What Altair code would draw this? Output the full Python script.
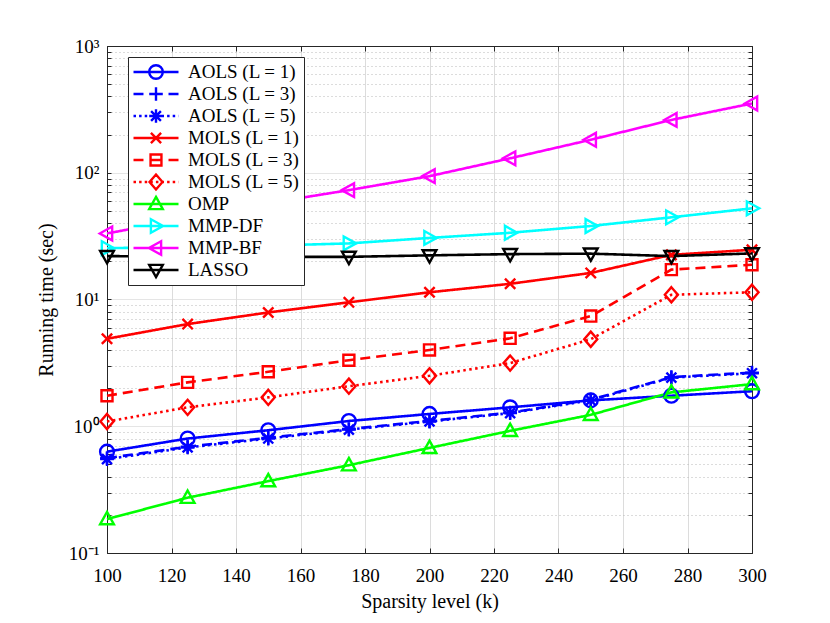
import altair as alt
import pandas as pd

# ---------------- data ----------------
k_values = [100, 125, 150, 175, 200, 225, 250, 275, 300]

series_names = [
    "AOLS (L = 1)", "AOLS (L = 3)", "AOLS (L = 5)",
    "MOLS (L = 1)", "MOLS (L = 3)", "MOLS (L = 5)",
    "OMP", "MMP-DF", "MMP-BF", "LASSO",
]

aols_l1 = [0.63, 0.80, 0.93, 1.10, 1.25, 1.41, 1.60, 1.74, 1.89]
aols_l3 = [0.56, 0.69, 0.81, 0.95, 1.10, 1.28, 1.62, 2.44, 2.65]
aols_l5 = [0.55, 0.68, 0.80, 0.94, 1.09, 1.27, 1.60, 2.42, 2.62]
mols_l1 = [4.9, 6.4, 7.9, 9.5, 11.4, 13.3, 16.2, 22.5, 24.7]
mols_l3 = [1.74, 2.22, 2.69, 3.32, 4.0, 4.94, 7.4, 17.2, 18.8]
mols_l5 = [1.09, 1.41, 1.69, 2.07, 2.50, 3.15, 4.86, 10.9, 11.4]
omp = [0.185, 0.273, 0.369, 0.493, 0.675, 0.92, 1.23, 1.85, 2.15]
mmp_df = [25.4, 26.0, 26.6, 27.7, 30.6, 33.6, 38.0, 44.5, 52.4]
mmp_bf = [33.2, 43.7, 57.6, 72.9, 94.0, 130.0, 182.0, 261.0, 352.0]
lasso = [22.0, 21.8, 21.7, 21.7, 22.3, 22.8, 23.0, 22.0, 23.1]

all_series = [aols_l1, aols_l3, aols_l5, mols_l1, mols_l3, mols_l5,
              omp, mmp_df, mmp_bf, lasso]

x_ticks = [100, 120, 140, 160, 180, 200, 220, 240, 260, 280, 300]
y_major = [0.1, 1, 10, 100, 1000]
y_major_labels = ["10\u207b\u00b9", "10\u2070", "10\u00b9", "10\u00b2", "10\u00b3"]
y_minor = [round(m * 10 ** e, 6) for e in range(-1, 3) for m in range(2, 10)]

# ---------------- styles ----------------
colors = ["#0000ff", "#0000ff", "#0000ff", "#ff0000", "#ff0000", "#ff0000",
          "#00ff00", "#00ffff", "#ff00ff", "#000000"]
SOLID, DASH, DOT = [1, 0], [10, 6], [2.5, 3.5]
dashes = [SOLID, DASH, DOT, SOLID, DASH, DOT, SOLID, SOLID, SOLID, SOLID]
line_kind = ["solid", "dash", "dot", "solid", "dash", "dot",
             "solid", "solid", "solid", "solid"]


def f(v):
    return f"{v:.3f}"


def circle(r):
    return f"M{f(-r)},0A{f(r)},{f(r)} 0 1,0 {f(r)},0A{f(r)},{f(r)} 0 1,0 {f(-r)},0Z"


def plus(r):
    return f"M{f(-r)},0L{f(r)},0M0,{f(-r)}L0,{f(r)}"


def asterisk(r):
    d = 0.72 * r
    return plus(r) + f"M{f(-d)},{f(-d)}L{f(d)},{f(d)}M{f(-d)},{f(d)}L{f(d)},{f(-d)}"


def xmark(r):
    d = 0.75 * r
    return f"M{f(-d)},{f(-d)}L{f(d)},{f(d)}M{f(-d)},{f(d)}L{f(d)},{f(-d)}"


def square(r):
    d = 0.8 * r
    return f"M{f(-d)},{f(-d)}L{f(d)},{f(-d)}L{f(d)},{f(d)}L{f(-d)},{f(d)}Z"


def diamond(r):
    a, b = 0.95 * r, 1.1 * r
    return f"M0,{f(-b)}L{f(a)},0L0,{f(b)}L{f(-a)},0Z"


def tri_up(r):
    return f"M0,{f(-1.05*r)}L{f(r)},{f(0.75*r)}L{f(-r)},{f(0.75*r)}Z"


def tri_down(r):
    return f"M0,{f(1.05*r)}L{f(r)},{f(-0.75*r)}L{f(-r)},{f(-0.75*r)}Z"


def tri_right(r):
    return f"M{f(1.05*r)},0L{f(-0.75*r)},{f(-r)}L{f(-0.75*r)},{f(r)}Z"


def tri_left(r):
    return f"M{f(-1.05*r)},0L{f(0.75*r)},{f(-r)}L{f(0.75*r)},{f(r)}Z"


marker_funcs = [circle, plus, asterisk, xmark, square, diamond,
                tri_up, tri_right, tri_left, tri_down]

# plot markers: unit 1 -> sqrt(size)/2 px
MARKER_SIZE = 190
plot_shapes = [fn(1.0) for fn in marker_funcs]

# legend symbols: line sample + marker, 45 px wide
LEG_SIZE = 2025
U = (LEG_SIZE ** 0.5) / 2.0  # px per unit
MR = 6.8 / U


def line_part(kind):
    half = U
    if kind == "solid":
        segs = [(-half, half)]
    elif kind == "dash":
        segs = [(-half, -half + 10), (-5, 5), (half - 10, half)]
    else:
        segs = []
        p = -half
        while p < half:
            segs.append((p, min(p + 2.5, half)))
            p += 5.6
    return "".join(f"M{f(a/U)},0L{f(b/U)},0" for a, b in segs)


legend_shapes = [line_part(kind) + fn(MR) for kind, fn in zip(line_kind, marker_funcs)]

# ---------------- table ----------------
rows = []
for name, vals in zip(series_names, all_series):
    for kk, v in zip(k_values, vals):
        rows.append({"k": kk, "time": v, "series": name})
df = pd.DataFrame(rows)

FONT = "Liberation Serif"
AX = "#262626"

label_expr = " : ".join(
    f"datum.value == {v} ? '{lab}'" for v, lab in zip(y_major, y_major_labels)
) + " : ''"
major_test = "indexof([" + ",".join(str(v) for v in y_major) + "], datum.value) >= 0"

x_scale = alt.Scale(domain=[100, 300], nice=False, zero=False)
y_scale = alt.Scale(type="log", domain=[0.1, 1000], nice=False)

x_axis = alt.Axis(
    values=x_ticks, title="Sparsity level (k)", grid=True, gridColor="#dcdcdc",
    tickSize={"expr": "-5"}, tickColor=AX, domainColor=AX, labelColor="#000000",
    labelFont=FONT, labelFontSize=19, labelPadding=18, labelFlush=False,
    titleFont=FONT, titleFontSize=20, titleFontWeight="normal",
    titleColor="#000000", titlePadding=6,
)
y_axis = alt.Axis(
    values=y_major + y_minor, labelExpr=label_expr, title="Running time (sec)",
    grid=True,
    gridDash={"condition": {"test": major_test, "value": [1, 0]}, "value": [1, 3]},
    gridColor={"condition": {"test": major_test, "value": "#dcdcdc"}, "value": "#b8b8b8"},
    tickSize={"expr": "-4"}, tickColor=AX, domainColor=AX, labelColor="#000000",
    labelFont=FONT, labelFontSize=19, labelPadding=12, labelFlush=False,
    titleFont=FONT, titleFontSize=20, titleFontWeight="normal",
    titleColor="#000000", titlePadding=12,
)

x_axis_top = alt.Axis(orient="top", values=x_ticks, labels=False, title=None, grid=False,
                      tickSize={"expr": "-5"}, tickColor=AX, domainColor=AX)
y_axis_right = alt.Axis(orient="right", values=y_major + y_minor, labels=False, title=None,
                        grid=False, tickSize={"expr": "-4"}, tickColor=AX, domainColor=AX)

color_enc = alt.Color("series:N", sort=series_names,
                      scale=alt.Scale(domain=series_names, range=colors), legend=None)

lines = alt.Chart(df).mark_line(strokeWidth=2.6).encode(
    x=alt.X("k:Q", scale=x_scale, axis=x_axis),
    y=alt.Y("time:Q", scale=y_scale, axis=y_axis),
    color=color_enc,
    strokeDash=alt.StrokeDash("series:N", sort=series_names,
                              scale=alt.Scale(domain=series_names, range=dashes),
                              legend=None),
    detail="series:N",
)

points = alt.Chart(df).mark_point(filled=False, strokeWidth=2.4, size=MARKER_SIZE,
                                  opacity=1).encode(
    x=alt.X("k:Q", scale=x_scale, axis=None),
    y=alt.Y("time:Q", scale=y_scale, axis=None),
    color=color_enc,
    shape=alt.Shape("series:N", sort=series_names,
                    scale=alt.Scale(domain=series_names, range=plot_shapes), legend=None),
)

leg = alt.Legend(
    orient="none", legendX=21, legendY=11, title=None,
    symbolSize=LEG_SIZE, symbolStrokeWidth=2.4, symbolOpacity=1,
    symbolFillColor="transparent", clipHeight=22, rowPadding=0, padding=4,
    labelOffset=8, labelFont=FONT, labelFontSize=19, labelColor="#000000",
    labelLimit=0, strokeColor=AX, fillColor="#ffffff", cornerRadius=0,
)

legend_layer = alt.Chart(df).mark_point(filled=False, opacity=0, strokeWidth=2).encode(
    x=alt.X("k:Q", scale=x_scale, axis=x_axis_top),
    y=alt.Y("time:Q", scale=y_scale, axis=y_axis_right),
    stroke=alt.Stroke("series:N", sort=series_names,
                      scale=alt.Scale(domain=series_names, range=colors), legend=leg),
    shape=alt.Shape("series:N", sort=series_names,
                    scale=alt.Scale(domain=series_names, range=legend_shapes), legend=leg),
)

chart = alt.layer(lines, points, legend_layer).resolve_scale(
    shape="independent", stroke="independent"
).resolve_axis(
    x="independent", y="independent"
).properties(
    width=645, height=507,
    autosize=alt.AutoSizeParams(type="none"),
    padding={"left": 99, "top": 38, "right": 70, "bottom": 70},
    background="#ffffff",
).configure_view(stroke=AX, strokeWidth=1)

chart.save("out.html", embed_options={"renderer": "svg", "actions": False})
